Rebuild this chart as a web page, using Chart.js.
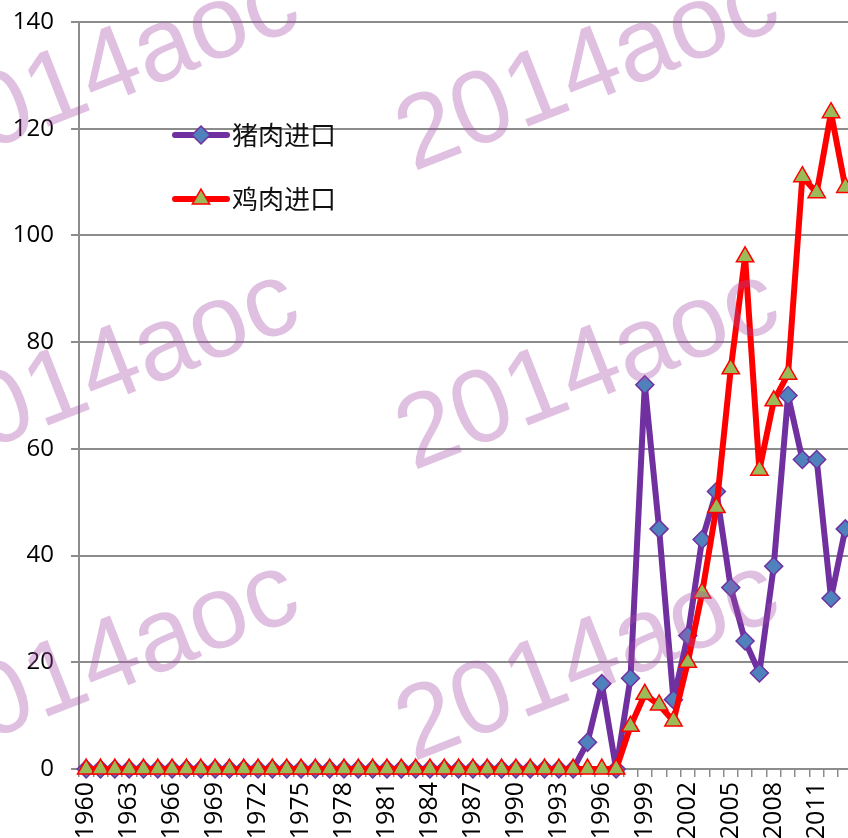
<!DOCTYPE html>
<html>
<head>
<meta charset="utf-8">
<script src="https://cdn.jsdelivr.net/npm/chart.js@4.4.1/dist/chart.umd.min.js"></script>
<style>
    html, body { margin: 0; padding: 0; background: #fff; overflow: hidden; }
    #wrap { width: 848px; height: 838px; overflow: hidden; position: relative; }
    canvas { display: block; }
</style>
</head>
<body>
<div id="wrap"><canvas id="chart" width="864" height="838"></canvas></div>
<script>
// ---- データ ----
const years = [
    '1960', '1961', '1962', '1963', '1964', '1965', '1966', '1967', '1968', '1969',
    '1970', '1971', '1972', '1973', '1974', '1975', '1976', '1977', '1978', '1979',
    '1980', '1981', '1982', '1983', '1984', '1985', '1986', '1987', '1988', '1989',
    '1990', '1991', '1992', '1993', '1994', '1995', '1996', '1997', '1998', '1999',
    '2000', '2001', '2002', '2003', '2004', '2005', '2006', '2007', '2008', '2009',
    '2010', '2011', '2012', '2013'
];

// 猪肉进口
const porkImports = [
    0, 0, 0, 0, 0, 0, 0, 0, 0, 0,
    0, 0, 0, 0, 0, 0, 0, 0, 0, 0,
    0, 0, 0, 0, 0, 0, 0, 0, 0, 0,
    0, 0, 0, 0, 0, 5, 16, 0, 17, 72,
    45, 13, 25, 43, 52, 34, 24, 18, 38, 70,
    58, 58, 32, 45
];

// 鸡肉进口
const chickenImports = [
    0, 0, 0, 0, 0, 0, 0, 0, 0, 0,
    0, 0, 0, 0, 0, 0, 0, 0, 0, 0,
    0, 0, 0, 0, 0, 0, 0, 0, 0, 0,
    0, 0, 0, 0, 0, 0, 0, 0, 8, 14,
    12, 9, 20, 33, 49, 75, 96, 56, 69, 74,
    111, 108, 123, 109
];

const seriesNames = ['猪肉进口', '鸡肉进口'];
const yMin = 0, yMax = 140, yStep = 20;
const watermarkText = '2014aoc';

// ---- スタイル ----
const PORK = { line: '#7030a0', fill: '#4f81bd', style: 'rectRot', radius: 9 };
const CHICKEN = { line: '#ff0000', fill: '#9bbb59', style: 'triangle', radius: 10 };
const GRID = '#8c8c8c';
const TICK_FONT = { family: '"Open Sans", sans-serif', size: 24 };

// 凡例 (グラフ内に手描き)
const legendPlugin = {
    id: 'innerLegend',
    afterDatasetsDraw(chart) {
        const ctx = chart.ctx;
        const items = [
            { name: seriesNames[0], s: PORK, y: 135 },
            { name: seriesNames[1], s: CHICKEN, y: 199 }
        ];
        ctx.save();
        items.forEach(it => {
            ctx.strokeStyle = it.s.line;
            ctx.lineWidth = 6;
            ctx.lineCap = 'round';
            ctx.beginPath();
            ctx.moveTo(175, it.y);
            ctx.lineTo(227, it.y);
            ctx.stroke();
            ctx.fillStyle = it.s.fill;
            ctx.strokeStyle = it.s.line;
            ctx.lineWidth = 1.5;
            Chart.helpers.drawPoint(ctx, { pointStyle: it.s.style, radius: it.s.radius, borderWidth: 1.5 }, 201, it.y);
            ctx.fillStyle = '#111';
            ctx.font = '26px "Noto Sans CJK SC", sans-serif';
            ctx.textBaseline = 'middle';
            ctx.textAlign = 'left';
            ctx.fillText(it.name, 232, it.y);
        });
        ctx.restore();
    }
};

// 透かし文字
const watermarkPlugin = {
    id: 'watermark',
    afterDraw(chart) {
        const ctx = chart.ctx;
        const spots = [[-67, 172], [413, 172], [-67, 471], [413, 471], [-67, 762], [413, 762]];
        ctx.save();
        ctx.fillStyle = 'rgba(166,75,166,0.35)';
        ctx.font = '104px "Liberation Sans", Arial, sans-serif';
        ctx.textBaseline = 'alphabetic';
        ctx.textAlign = 'left';
        spots.forEach(([x, y]) => {
            ctx.save();
            ctx.translate(x, y);
            ctx.rotate(-21.5 * Math.PI / 180);
            ctx.fillText(watermarkText, 0, 0);
            ctx.restore();
        });
        ctx.restore();
    }
};

function makeDataset(label, data, s, order) {
    return {
        label,
        data,
        order,
        borderColor: s.line,
        borderWidth: 6,
        borderJoinStyle: 'round',
        borderCapStyle: 'round',
        backgroundColor: s.fill,
        pointStyle: s.style,
        pointRadius: s.radius,
        pointHoverRadius: s.radius,
        pointBackgroundColor: s.fill,
        pointBorderColor: s.line,
        pointBorderWidth: 1.5,
        tension: 0,
        fill: false,
        clip: false
    };
}

new Chart(document.getElementById('chart'), {
    type: 'line',
    data: {
        labels: years,
        datasets: [
            makeDataset(seriesNames[0], porkImports, PORK, 2),
            makeDataset(seriesNames[1], chickenImports, CHICKEN, 1)
        ]
    },
    options: {
        responsive: false,
        devicePixelRatio: 1,
        animation: false,
        layout: { padding: { top: 22, right: 8, left: 0, bottom: 0 } },
        plugins: { legend: { display: false }, tooltip: { enabled: false } },
        scales: {
            x: {
                offset: true,
                grid: { offset: true, drawOnChartArea: false, color: GRID, lineWidth: 1.5, tickLength: 8 },
                border: { color: GRID, width: 2 },
                ticks: {
                    autoSkip: false,
                    minRotation: 90,
                    maxRotation: 90,
                    padding: 5,
                    color: '#000',
                    font: { family: TICK_FONT.family, size: 25 },
                    callback: (v, i) => (i % 3 === 0 ? years[i] : '')
                },
                afterFit: s => { s.height = 69; s.paddingLeft = 0; s.paddingRight = 0; }
            },
            y: {
                min: yMin,
                max: yMax,
                grid: { color: GRID, lineWidth: 2, tickLength: 8 },
                border: { color: GRID, width: 2 },
                ticks: { stepSize: yStep, padding: 17, color: '#000', font: TICK_FONT },
                afterFit: s => { s.width = 79; s.paddingTop = 0; s.paddingBottom = 0; }
            }
        }
    },
    plugins: [legendPlugin, watermarkPlugin]
});
</script>
</body>
</html>
